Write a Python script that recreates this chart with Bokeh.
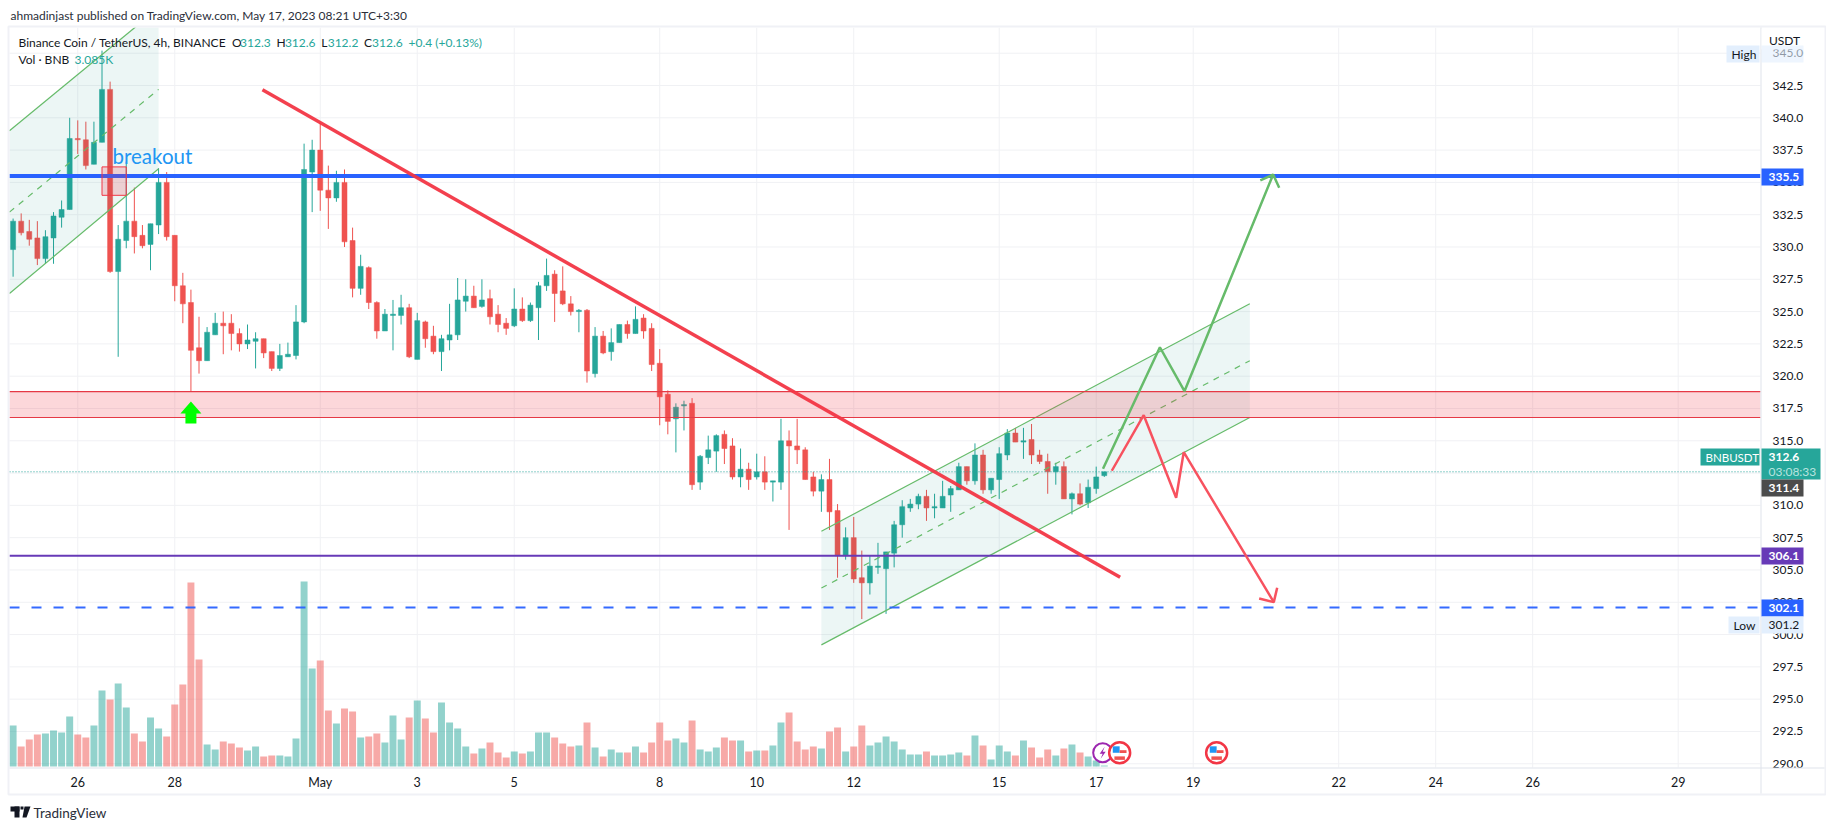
from bokeh.plotting import figure
from bokeh.embed import file_html
from bokeh.resources import INLINE
from bokeh.core.properties import value
from bokeh.models import (Range1d, FixedTicker, NumeralTickFormatter, Label, BoxAnnotation,
                          PolyAnnotation, ColumnDataSource)

# ---------- data (4h bars, index 0 = first bar in view) ----------
opens = [329.8,332.0,331.2,330.7,329.1,330.7,332.3,332.9,338.4,338.3,
336.4,338.1,342.2,328.1,330.5,332.0,330.9,330.2,331.7,335.0,
330.9,327.0,325.7,322.2,321.2,323.2,324.1,324.1,323.3,322.5,
322.7,322.9,321.9,320.6,321.5,321.6,324.2,335.8,337.5,334.4,
333.8,335.0,330.5,326.8,328.4,325.7,323.5,324.7,324.7,325.3,
321.3,324.2,323.1,321.9,322.8,323.2,325.8,326.2,325.4,326.0,
324.8,324.1,323.9,325.2,324.3,325.3,327.0,327.9,326.6,325.6,
325.0,325.1,320.2,
323.1,321.9,322.6,324.0,323.3,324.5,323.7,321.0,318.6,316.7,
317.7,317.9,311.8,313.7,314.2,315.5,314.6,312.2,312.8,312.2,
312.6,311.8,311.8,315.0,314.6,314.3,312.2,311.1,312.0,309.6,
306.1,307.5,304.4,304.0,305.2,305.1,306.3,308.5,309.8,310.1,
310.7,309.8,309.8,310.8,311.2,313.0,311.9,313.9,311.2,312.0,
313.9,315.6,314.9,315.1,313.9,313.4,312.6,313.0,310.5,310.9,
310.2,311.3,312.3]
highs = [332.2,332.6,332.1,332.0,331.3,332.7,333.6,340.0,339.8,339.7,
339.7,345.2,342.8,331.7,336.6,334.6,331.7,331.8,336.1,335.8,
330.9,328.0,326.7,324.6,323.8,324.9,325.0,324.8,323.7,324.0,
323.4,322.9,321.9,322.5,322.6,325.5,338.0,338.3,339.6,336.3,
335.9,336.0,331.5,329.4,328.5,325.8,325.2,325.9,326.3,325.6,
324.9,324.3,323.9,323.2,325.6,327.6,327.5,327.0,327.5,326.7,
325.5,324.5,326.8,326.1,325.7,327.3,329.1,328.2,328.5,326.2,
325.2,325.2,323.8,
323.5,323.7,324.0,324.3,325.4,324.8,324.1,322.1,318.9,317.9,
318.1,318.3,313.9,315.4,315.5,315.8,315.2,314.4,313.3,314.0,
313.8,311.9,316.7,315.8,316.7,314.5,312.6,312.4,313.6,310.1,
308.3,309.1,306.5,306.1,307.1,306.4,308.8,310.4,310.5,310.9,
311.2,310.9,311.9,311.5,313.3,313.0,314.8,314.3,312.1,314.5,
315.9,316.0,316.0,316.3,314.3,314.0,313.3,313.4,311.0,311.7,
312.0,313.0,312.6]
lows = [327.7,330.9,330.1,328.6,328.7,328.7,331.5,332.9,337.2,336.0,
336.4,338.1,328.0,321.5,329.9,329.5,329.9,328.2,331.0,330.5,
325.8,324.1,318.8,320.2,321.2,323.2,321.7,322.0,321.9,322.1,
320.6,321.4,320.4,320.4,321.5,321.3,324.1,332.7,332.8,331.4,
333.5,330.0,326.1,326.3,325.2,322.9,323.5,322.0,324.0,321.4,
321.3,322.2,321.7,320.4,322.0,322.8,325.0,325.3,325.3,324.0,
323.4,323.2,323.8,324.2,324.2,322.8,326.6,324.2,325.5,324.7,
323.4,319.5,319.9,
321.7,321.2,322.6,322.9,323.3,322.9,320.4,316.2,315.5,314.1,
315.8,311.2,311.2,313.2,312.6,313.2,312.0,311.4,311.2,312.0,
311.2,310.3,311.2,308.1,313.2,312.0,310.7,309.5,308.1,304.4,
305.8,304.0,301.2,303.1,304.7,301.6,305.2,307.5,309.5,309.7,
308.8,309.0,309.8,309.5,311.2,311.6,311.6,310.9,310.9,310.5,
313.5,314.9,313.6,313.2,313.2,310.9,311.6,310.5,309.3,310.0,
309.8,310.9,312.2]
closes = [332.0,331.1,330.6,329.1,330.8,332.4,332.9,338.4,338.3,336.3,
338.1,342.2,328.1,330.6,332.0,330.8,330.1,331.8,335.0,330.8,
327.0,325.6,322.0,321.2,323.4,324.1,323.9,323.3,322.5,322.8,
322.9,321.8,320.6,321.6,321.7,324.2,336.0,337.5,334.4,333.8,
335.0,330.4,326.8,328.5,325.7,323.5,324.8,324.8,325.3,321.5,
324.3,322.9,321.9,322.9,323.2,325.9,326.2,325.3,325.9,324.6,
324.0,323.7,325.2,324.3,325.5,327.0,327.8,326.4,325.6,325.0,
325.1,320.4,323.1,
321.8,322.6,324.0,323.3,324.4,323.5,320.9,318.4,316.5,317.6,
317.8,311.6,313.8,314.3,315.4,314.4,312.2,312.8,312.0,312.6,
311.8,311.9,315.0,314.6,314.3,312.0,311.1,312.0,309.5,306.1,
307.5,304.3,304.0,305.3,305.3,306.4,308.5,309.9,310.1,310.7,
309.8,309.9,310.7,311.3,313.0,311.9,313.9,311.2,312.1,314.0,
315.6,314.9,315.0,313.9,313.4,312.6,313.0,310.5,310.9,310.1,
311.4,312.2,312.6]
volumes = [123,60,81,96,99,108,102,150,96,87,
123,228,201,249,177,99,75,147,114,90,
186,246,552,321,66,51,75,69,57,48,
60,30,33,33,30,84,555,294,318,168,
129,174,165,87,90,99,72,153,81,147,
198,144,102,192,132,114,60,39,54,72,
42,27,45,39,45,102,102,87,69,60,
63,132,57,
30,51,42,42,60,42,72,132,78,84,
72,138,51,45,57,87,78,78,45,48,
48,63,132,162,75,51,60,54,105,117,
45,60,123,63,72,90,75,51,36,36,
45,33,33,36,42,33,93,63,21,63,
45,33,78,57,27,51,33,54,66,42,
30,18,3.085]

date_ticks = [8,20,38,50,62,80,92,104,122,134,146,164,176,188,206]
date_labels = ["26","28","May","3","5","8","10","12","15","17","19","22","24","26","29"]
price_ticks = [290+2.5*k for k in range(23)]

blue_level = 335.5
purple_level = 306.1
dashed_level = 302.1
last_price = 312.6
zone_top, zone_bottom = 318.8, 316.8

chan1_x = [-0.45, 18.0]
chan1_top = [339.0, 348.5]
chan1_mid = [332.7, 342.2]
chan1_bot = [326.4, 336.05]
chan2_x = [100.0, 153.0]
chan2_top = [308.0, 325.6]
chan2_mid = [303.6, 321.2]
chan2_bot = [299.2, 316.8]

trend_x = [30.85, 136.96]
trend_y = [342.17, 304.44]
green_x = [134.84, 141.88, 144.92, 155.89]
green_y = [312.83, 322.24, 318.84, 335.61]
green_head_x = [154.3, 155.89, 156.64]
green_head_y = [335.15, 335.61, 334.58]
red_x = [135.93, 139.88, 143.89, 144.83, 155.97]
red_y = [312.68, 316.98, 310.59, 314.12, 302.51]
red_head_x = [154.16, 155.97, 156.39]
red_head_y = [302.79, 302.51, 303.62]

# ---------- colours, fonts ----------
UP, DOWN = "#26a69a", "#ef5350"
FONT = "Lato"
INK = "#131722"
GRID = "#f0f1f4"
BORDER = "#e0e3eb"
OUTER = "#f0f1f6"

# ---------- the frame fills the page; the price pane is x 9..1760, y 27..767 of it ----------
W, H = 1826, 821
xl, xr = -0.445, 216.18            # pane edges in bar index
yb, yt = 289.71, 346.99            # pane edges in price
p = figure(width=W, height=H, output_backend="svg", toolbar_location=None,
           x_range=Range1d(-1.559, 224.35), y_range=Range1d(285.53, 349.08),
           y_axis_location="right", tools="")
p.frame_width = W
p.frame_height = H
p.min_border_left = p.min_border_top = p.min_border_right = p.min_border_bottom = 0
p.outline_line_color = None
p.background_fill_color = "white"
p.grid.visible = False

p.xaxis.ticker = FixedTicker(ticks=date_ticks)
p.xaxis.major_label_overrides = dict(zip(date_ticks, date_labels))
p.xaxis.major_tick_line_color = None
p.xaxis.minor_tick_line_color = None
p.xaxis.axis_line_color = None
p.xaxis.major_label_standoff = -53
p.xaxis.major_label_text_font = FONT
p.xaxis.major_label_text_font_size = "12.5px"
p.xaxis.major_label_text_color = INK
p.yaxis.ticker = FixedTicker(ticks=price_ticks)
p.yaxis.formatter = NumeralTickFormatter(format="0.0")
p.yaxis.major_tick_line_color = None
p.yaxis.minor_tick_line_color = None
p.yaxis.axis_line_color = None
p.yaxis.major_label_standoff = -60
p.yaxis.major_label_text_font = FONT
p.yaxis.major_label_text_font_size = "12px"
p.yaxis.major_label_text_color = INK

# pane grid
p.segment(xl, price_ticks, xr, price_ticks, color=GRID, line_width=1)
p.segment(date_ticks, yb, date_ticks, yt, color=GRID, line_width=1)

# ---------- volume: own scale, drawn from base of the pane ----------
idx = list(range(len(closes)))
colors = [UP if c >= o else DOWN for o, c in zip(opens, closes)]
p.extra_y_ranges = {"vol": Range1d(-165, 2298)}
p.vbar(x=idx, top=volumes, bottom=0, width=0.86, color=colors, alpha=0.5, line_alpha=0, y_range_name="vol")

# ---------- candles ----------
src = ColumnDataSource(dict(x=idx, o=opens, h=highs, l=lows, c=closes, color=colors,
                            top=[max(a, b) for a, b in zip(opens, closes)],
                            bot=[min(a, b) for a, b in zip(opens, closes)]))
p.segment("x", "h", "x", "l", source=src, color="color", line_width=1)
p.vbar("x", 0.62, "bot", "top", source=src, fill_color="color", line_color="color", line_width=0.5)

# ---------- channels ----------
CH_LINE = "#66bb6a"
for cx, ct, cm, cb in ((chan1_x, chan1_top, chan1_mid, chan1_bot), (chan2_x, chan2_top, chan2_mid, chan2_bot)):
    p.patch(cx + cx[::-1], ct + cb[::-1], fill_color="#138f7f", fill_alpha=0.08, line_alpha=0)
    p.line(cx, ct, color=CH_LINE, line_width=1.2)
    p.line(cx, cb, color=CH_LINE, line_width=1.2)
    p.line(cx, cm, color=CH_LINE, line_width=1.2, line_dash="6 6")

# ---------- zones and levels ----------
p.quad(left=[xl], right=[xr], top=[zone_top], bottom=[zone_bottom], fill_color="#f23645", fill_alpha=0.2, line_alpha=0)
p.line([xl, xr], [zone_top, zone_top], color="#e53945", line_width=1.2)
p.line([xl, xr], [zone_bottom, zone_bottom], color="#e53945", line_width=1.2)
p.line([xl, xr], [last_price, last_price], color=UP, line_width=1, line_dash="1 2")
p.line([xl, xr], [dashed_level, dashed_level], color="#2962ff", line_width=2, line_dash="10 12", alpha=0.95)
p.line([xl, xr], [purple_level, purple_level], color="#673ab7", line_width=2)
p.line([xl, xr], [blue_level, blue_level], color="#2962ff", line_width=4)

# breakout box and label
p.quad(left=[11], right=[14], top=[336.2], bottom=[334.0], fill_color="#f23645", fill_alpha=0.2,
       line_color="#f23645", line_width=1)
p.text(x=[12.3], y=[337.03], text=["breakout"], text_color="#2196f3", text_font=value(FONT),
       text_font_size="20.5px", text_baseline="alphabetic", text_align="left")

# ---------- drawings ----------
p.line(trend_x, trend_y, color="#f23645", line_width=3.5, alpha=0.95)
p.line(green_x, green_y, color="#66bb6a", line_width=2.5)
p.line(green_head_x, green_head_y, color="#66bb6a", line_width=2.5)
p.line(red_x, red_y, color="#f7525f", line_width=2.5)
p.line(red_head_x, red_head_y, color="#f7525f", line_width=2.5)

# up-arrow at the support zone
ax = 22.0
p.patch([ax, ax+1.3, ax+0.68, ax+0.68, ax-0.68, ax-0.68, ax-1.3],
        [318.04, 317.11, 317.11, 316.34, 316.34, 317.11, 317.11], color="#00ff00", line_alpha=0)

# ---------- event markers at the base of the pane ----------
ey = 290.85
p.scatter([134.8], [ey], size=19, fill_color="white", line_color="#9c27b0", line_width=2)
bx = 134.8
p.patch([bx+0.25, bx-0.37, bx, bx-0.25, bx+0.37, bx],
        [ey+0.46, ey-0.08, ey-0.08, ey-0.46, ey+0.08, ey+0.08], color="#9c27b0", line_alpha=0)
for fx in (136.9, 148.9):
    p.scatter([fx], [ey], size=21, fill_color="white", line_color="#f23645", line_width=2.5)
    p.quad(left=[fx-0.85], right=[fx], top=[ey+0.5], bottom=[ey], color="#2196f3", line_alpha=0)
    p.quad(left=[fx], right=[fx+0.85], top=[ey+0.2], bottom=[ey-0.02], color="#ef5350", line_alpha=0)
    p.quad(left=[fx-0.65], right=[fx+0.65], top=[ey-0.28], bottom=[ey-0.55], color="#ef5350", line_alpha=0)

# white strip that ends what runs over the top of the pane
p.quad(left=[-1.559], right=[224.35], top=[349.08], bottom=[yt], color="white", line_alpha=0)

# ---------- page furniture, placed in screen units of the page ----------
sx = lambda px: px
sy = lambda py: H - py

def box(x0, x1, y0, y1, fill, alpha=1.0, line=None, lw=1):
    p.add_layout(BoxAnnotation(left=sx(x0), right=sx(x1), top=sy(y0), bottom=sy(y1),
                               left_units="screen", right_units="screen", top_units="screen", bottom_units="screen",
                               fill_color=fill, fill_alpha=alpha,
                               line_color=line, line_alpha=1 if line else 0, line_width=lw))

def txt(s, x, y, color=INK, size=12, bold=False, align="left"):
    p.add_layout(Label(x=sx(x), y=sy(y), x_units="screen", y_units="screen", text=s, text_color=color,
                       text_font=FONT, text_font_size=f"{size}px", text_align=align, text_baseline="middle",
                       text_font_style="bold" if bold else "normal"))

# outer frame and separators
box(8, 1825, 26, 794, None, 0, OUTER, 2)
box(1760, 1761, 27, 793, BORDER)
box(9, 1824, 767, 768, BORDER)

txt("ahmadinjast published on TradingView.com, May 17, 2023 08:21 UTC+3:30", 10, 15, "#2a2e39", 12)
txt("Binance Coin / TetherUS, 4h, BINANCE", 18, 42, INK, 12)
for s, x, c in (("O", 231.5, INK), ("312.3", 239.6, UP), ("H", 276, INK), ("312.6", 284.4, UP),
                ("L", 320.7, INK), ("312.2", 327.2, UP), ("C", 363.6, INK), ("312.6", 371.6, UP),
                ("+0.4 (+0.13%)", 408, UP)):
    txt(s, x, 42, c, 12)
txt("Vol · BNB", 18, 59, INK, 12)
txt("3.085K", 74, 59, UP, 12)

# right-hand scale tags
TAG = "#e3effd"
box(1761, 1823, 28, 49, "white", 0.85)
txt("USDT", 1784, 40, INK, 12, align="center")
box(1726, 1759, 45, 62, TAG)
txt("High", 1731, 53.5, INK, 12)
box(1761, 1803, 45, 62, TAG, 0.6)
box(1761, 1803, 168, 185, "#2962ff")
txt("335.5", 1768, 176.5, "white", 12, True)
box(1700, 1759, 448, 465, UP)
txt("BNBUSDT", 1705, 456.5, "white", 11.5)
box(1761, 1820, 448, 479, UP)
txt("312.6", 1768, 456.5, "white", 12, True)
txt("03:08:33", 1768, 471, "#b9e3df", 12)
box(1761, 1803, 479, 496, "#4c4c4c")
txt("311.4", 1768, 487.5, "white", 12, True)
box(1761, 1803, 547, 564, "#673ab7")
txt("306.1", 1768, 555.5, "white", 12, True)
box(1761, 1803, 599, 616, "#2962ff")
txt("302.1", 1768, 607.5, "white", 12, True)
box(1728, 1759, 616, 633, TAG)
txt("Low", 1733, 624.5, INK, 12)
box(1761, 1803, 616, 633, TAG)
txt("301.2", 1768, 624.5, INK, 12)

# TradingView mark
box(10, 19, 806, 811, "#131722")
box(14, 19, 806, 817, "#131722")
box(20, 23, 806, 809, "#131722")
p.add_layout(PolyAnnotation(xs=[sx(v) for v in (24, 30, 26, 22)], ys=[sy(v) for v in (806, 806, 817, 817)],
                            xs_units="screen", ys_units="screen", fill_color="#131722", fill_alpha=1, line_alpha=0))
txt("TradingView", 33, 812, "#2a2e39", 13.5)

open("out.html", "w").write(file_html(p, INLINE))
